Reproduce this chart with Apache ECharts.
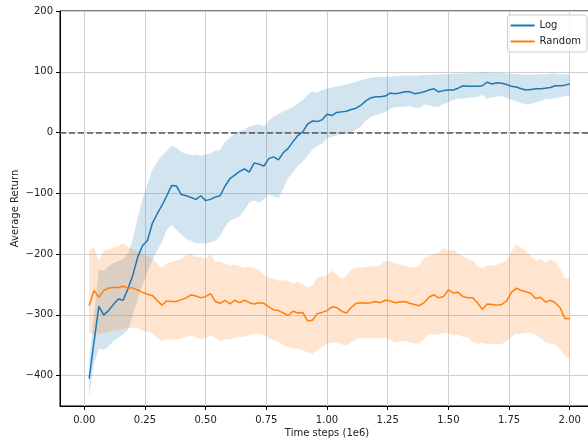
<!DOCTYPE html>
<html>
<head>
<meta charset="utf-8">
<script src="https://cdn.jsdelivr.net/npm/echarts@6/dist/echarts.min.js"></script>
<style>
  html, body { margin: 0; padding: 0; background: #fff; }
  #chart { width: 588px; height: 441px; }
</style>
</head>
<body>
<div id="chart"></div>
<script>
// Training steps (millions)
const steps = [
  0.02,0.04,0.06,0.08,0.10,0.12,0.14,0.16,0.18,0.20,
  0.22,0.24,0.26,0.28,0.30,0.32,0.34,0.36,0.38,0.40,
  0.42,0.44,0.46,0.48,0.50,0.52,0.54,0.56,0.58,0.60,
  0.62,0.64,0.66,0.68,0.70,0.72,0.74,0.76,0.78,0.80,
  0.82,0.84,0.86,0.88,0.90,0.92,0.94,0.96,0.98,1.00,
  1.02,1.04,1.06,1.08,1.10,1.12,1.14,1.16,1.18,1.20,
  1.22,1.24,1.26,1.28,1.30,1.32,1.34,1.36,1.38,1.40,
  1.42,1.44,1.46,1.48,1.50,1.52,1.54,1.56,1.58,1.60,
  1.62,1.64,1.66,1.68,1.70,1.72,1.74,1.76,1.78,1.80,
  1.82,1.84,1.86,1.88,1.90,1.92,1.94,1.96,1.98,2.00
];

// "Log" run: mean return and its spread
const logMean = [
  -405,-345,-286,-300,-293,-283,-274,-276,-257,-235,
  -205,-186,-178,-150,-134,-120,-104,-87,-88,-102,
  -104,-107,-110,-104,-112,-110,-106,-104,-88,-76,
  -70,-64,-60,-65,-50,-52,-55,-43,-40,-45,
  -33,-26,-15,-5,1,14,19,18,21,30,
  28,33,34,35,38,40,45,52,57,59,
  59,60,65,64,65,67,67,64,65,67,
  70,72,67,69,70,70,73,77,76,76,
  76,77,83,80,82,81,79,76,75,72,
  70,71,72,72,73,74,77,77,78,80
];
const logLow = [
  -435,-380,-355,-358,-352,-343,-338,-332,-325,-300,
  -275,-250,-230,-210,-195,-180,-160,-152,-160,-168,
  -175,-178,-182,-182,-183,-180,-178,-170,-155,-145,
  -142,-138,-128,-115,-112,-115,-110,-102,-105,-108,
  -92,-75,-65,-55,-48,-38,-28,-22,-18,-10,
  -7,-5,-3,-2,0,5,10,20,26,29,
  31,34,39,42,42,42,44,41,40,46,
  45,42,43,47,50,53,56,56,57,58,
  58,62,55,58,59,60,57,54,52,48,
  46,47,50,52,55,55,57,58,60,61
];
const logHigh = [
  -375,-300,-225,-228,-220,-215,-212,-208,-200,-175,
  -140,-110,-85,-62,-48,-38,-30,-22,-25,-32,
  -35,-37,-36,-38,-36,-34,-30,-28,-15,-8,
  -3,3,5,10,12,14,10,20,26,30,
  35,38,42,48,53,62,68,66,70,72,
  74,76,77,79,81,84,86,88,90,91,
  92,92,92,93,93,94,94,93,94,95,
  95,95,96,96,96,97,97,97,98,98,
  98,99,99,98,98,98,97,97,96,96,
  95,95,96,96,96,97,97,96,96,95
];

// "Random" run: mean return and its spread
const randMean = [
  -285,-260,-271,-260,-256,-255,-255,-253,-256,-256,
  -259,-263,-266,-268,-276,-284,-277,-278,-278,-275,
  -272,-267,-269,-272,-270,-265,-278,-281,-276,-282,
  -276,-280,-276,-280,-282,-280,-281,-287,-292,-293,
  -297,-301,-294,-297,-296,-310,-309,-298,-296,-293,
  -287,-288,-294,-297,-288,-281,-280,-281,-280,-278,
  -280,-276,-277,-280,-279,-278,-281,-283,-285,-280,
  -271,-267,-272,-270,-259,-264,-263,-270,-272,-272,
  -280,-291,-282,-283,-284,-283,-277,-263,-256,-260,
  -262,-265,-273,-271,-279,-276,-280,-288,-306,-306
];
const randLow = [
  -330,-333,-331,-330,-328,-326,-325,-323,-322,-321,
  -322,-326,-328,-331,-337,-343,-340,-341,-340,-339,
  -336,-334,-337,-340,-338,-334,-338,-343,-340,-340,
  -338,-336,-336,-333,-331,-331,-333,-338,-342,-344,
  -350,-353,-355,-356,-358,-362,-364,-358,-352,-348,
  -346,-346,-349,-350,-345,-340,-338,-338,-339,-338,
  -338,-338,-340,-345,-344,-343,-345,-347,-347,-340,
  -332,-332,-333,-330,-330,-333,-333,-336,-337,-345,
  -348,-346,-349,-348,-348,-348,-343,-336,-331,-331,
  -330,-329,-333,-338,-345,-347,-349,-356,-368,-372
];
const randHigh = [
  -194,-189,-211,-194,-193,-189,-187,-182,-188,-192,
  -196,-200,-203,-206,-216,-222,-216,-213,-211,-208,
  -202,-200,-205,-204,-209,-200,-213,-212,-216,-219,
  -217,-220,-223,-221,-223,-227,-234,-238,-241,-244,
  -243,-244,-249,-246,-250,-255,-252,-238,-236,-235,
  -227,-233,-241,-236,-225,-222,-222,-221,-220,-221,
  -218,-211,-212,-215,-218,-219,-221,-222,-218,-207,
  -203,-200,-198,-190,-194,-193,-199,-203,-208,-210,
  -220,-223,-219,-219,-218,-214,-211,-195,-184,-189,
  -195,-204,-210,-208,-214,-209,-212,-224,-240,-239
];

// Axis ticks
const xTicks = [0, 0.25, 0.5, 0.75, 1.0, 1.25, 1.5, 1.75, 2.0];
const yTicks = [-400, -300, -200, -100, 0, 100, 200];
const baseline = 0;

const BLUE = '#1f77b4';
const ORANGE = '#ff7f0e';
const FONT = 'DejaVu Sans';

const pairs = (xs, ys) => xs.map((x, i) => [x, ys[i]]);

// Shaded spread between lo and hi, drawn as one closed polygon
function band(name, lo, hi, color) {
  const rows = steps.map((x, i) => [x, lo[i], hi[i]]);
  return {
    name: name, type: 'custom', silent: true, z: 1,
    data: rows,
    encode: { x: 0, y: [1, 2] },
    renderItem: function (params, api) {
      if (params.dataIndex !== 0) return null;
      const upper = rows.map(r => api.coord([r[0], r[2]]));
      const lower = rows.map(r => api.coord([r[0], r[1]])).reverse();
      return {
        type: 'polygon',
        shape: { points: upper.concat(lower) },
        style: { fill: color, opacity: 0.2 }
      };
    }
  };
}

const chart = echarts.init(document.getElementById('chart'), null, { renderer: 'canvas' });

chart.setOption({
  animation: false,
  backgroundColor: '#fff',
  textStyle: { fontFamily: FONT },
  grid: {
    left: 60, top: 11, width: 534, height: 395,
    outerBoundsMode: 'none', containLabel: false,
    show: true, borderColor: '#000', borderWidth: 1, backgroundColor: 'transparent'
  },
  legend: {
    data: [
      { name: 'Log', icon: 'rect' },
      { name: 'Random', icon: 'rect' }
    ],
    orient: 'vertical',
    right: 1, top: 15,
    itemWidth: 24, itemHeight: 2, itemGap: 5,
    padding: [5, 6, 5, 3],
    backgroundColor: 'rgba(255,255,255,0.8)',
    borderColor: '#cccccc', borderWidth: 1, borderRadius: 3,
    textStyle: { fontFamily: FONT, fontSize: 10, color: '#222', lineHeight: 11 }
  },
  xAxis: {
    type: 'value', min: -0.1, max: 2.1,
    name: 'Time steps (1e6)', nameLocation: 'middle', nameGap: 22,
    nameMoveOverlap: false,
    nameTextStyle: { fontFamily: FONT, fontSize: 10, color: '#222' },
    axisLine: { show: true, onZero: false, lineStyle: { color: '#000', width: 1 } },
    axisTick: { show: true, customValues: xTicks, length: 4, lineStyle: { color: '#000' } },
    axisLabel: {
      customValues: xTicks, margin: 9, fontSize: 10, color: '#222', fontFamily: FONT,
      formatter: v => v.toFixed(2)
    },
    splitLine: { show: true, lineStyle: { color: '#d0d0d0', width: 1 } }
  },
  yAxis: {
    type: 'value', min: -450, max: 200,
    name: 'Average Return', nameLocation: 'middle', nameGap: 40,
    nameMoveOverlap: false,
    nameTextStyle: { fontFamily: FONT, fontSize: 10, color: '#222' },
    axisLine: { show: true, onZero: false, lineStyle: { color: '#000', width: 1 } },
    axisTick: { show: true, customValues: yTicks, length: 4, lineStyle: { color: '#000' } },
    axisLabel: {
      customValues: yTicks, margin: 7, fontSize: 10, color: '#222', fontFamily: FONT,
      formatter: v => (v < 0 ? '\u2212' + Math.abs(v) : String(v))
    },
    splitLine: { show: true, lineStyle: { color: '#d0d0d0', width: 1 } }
  },
  series: [
    band('log-spread', logLow, logHigh, BLUE),
    band('rand-spread', randLow, randHigh, ORANGE),
    {
      name: 'Log', type: 'line', data: pairs(steps, logMean), symbol: 'none',
      lineStyle: { color: BLUE, width: 1.5 }, itemStyle: { color: BLUE }, z: 3,
      markLine: {
        silent: true, symbol: ['none', 'none'], label: { show: false },
        lineStyle: { color: '#555', type: [6, 3], width: 1.5 },
        data: [{ yAxis: baseline }]
      }
    },
    {
      name: 'Random', type: 'line', data: pairs(steps, randMean), symbol: 'none',
      lineStyle: { color: ORANGE, width: 1.5 }, itemStyle: { color: ORANGE }, z: 3
    }
  ]
});
</script>
</body>
</html>
